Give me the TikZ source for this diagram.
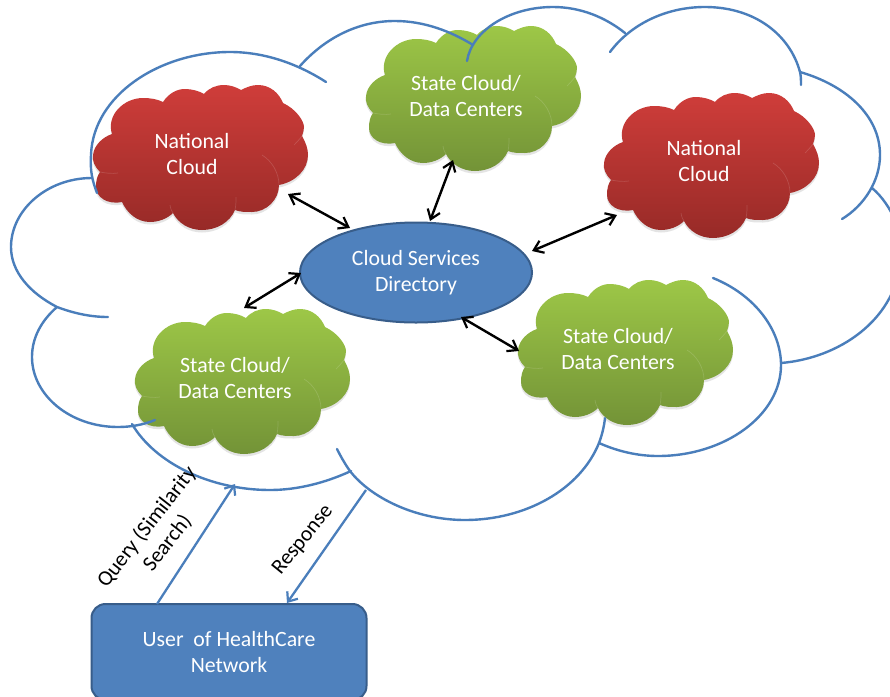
\documentclass[tikz,border=0pt]{standalone}
\usepackage{fontspec}
\setmainfont{Carlito}
\usetikzlibrary{shapes.geometric,arrows.meta}
\definecolor{lineblue}{HTML}{4A7EBB}
\definecolor{fillblue}{HTML}{4F81BD}
\definecolor{edgeblue}{HTML}{385D8A}
\definecolor{redtop}{HTML}{CF3D3A}
\definecolor{redbot}{HTML}{972A27}
\definecolor{greentop}{HTML}{9DC747}
\definecolor{greenbot}{HTML}{739337}
\tikzset{
  bigcloud/.style={draw=lineblue,line width=2.4pt,line cap=round},
  cloudtext/.style={text=white,align=center,font=\fontsize{21.8}{26}\selectfont,inner sep=0pt},
  linktwo/.style={black,line width=2.4pt,{Straight Barb[length=9pt,width=13pt,line width=2.2pt]}-{Straight Barb[length=9pt,width=13pt,line width=2.2pt]}},
  linkone/.style={lineblue,line width=2.3pt,-{Straight Barb[length=8pt,width=13pt,line width=2.2pt]}},
  hint/.style={white,opacity=.14,line width=.7pt},
  rotlabel/.style={text=black,align=center,font=\fontsize{21.5}{26}\selectfont,inner sep=0pt}
}
\def\cloudoutline{
  (20,49) .. controls (14,30) and (32,13) .. (51,13) .. controls (58,13) and (65,14) .. (71,17)
  .. controls (77,8) and (85,4) .. (93,4) .. controls (100,4) and (107,6) .. (112,9)
  .. controls (117,3) and (124,0) .. (132,0) .. controls (138,0) and (144,2) .. (149,5)
  .. controls (155,2) and (160,0) .. (166,0) .. controls (178,0) and (187,8) .. (191,18)
  .. controls (204,24) and (212,36) .. (212,42) .. controls (212,45) and (211,48) .. (210,51)
  .. controls (214,58) and (216,64) .. (216,70) .. controls (216,85) and (203,97) .. (187,100)
  .. controls (187,115) and (174,127) .. (160,127) .. controls (153,127) and (148,127) .. (143,125)
  .. controls (138,137) and (125,145) .. (110,145) .. controls (97,145) and (86,138) .. (81,128)
  .. controls (75,134) and (66,137) .. (58,137) .. controls (45,137) and (35,128) .. (30,117)
  .. controls (15,120) and (4,112) .. (4,102) .. controls (4,96) and (5,91) .. (8,87)
  .. controls (3,82) and (0,76) .. (1,70) .. controls (2,60) and (11,52) .. (20,49)
  -- cycle
}
\newcommand{\smallcloud}[4]{%
  \begin{scope}[shift={(#1,#2)}]
    \fill[black!30,opacity=.35] [shift={(0,2.5)}] \cloudoutline;
    \shade[top color=#3,bottom color=#4] \cloudoutline;
    \draw[hint] (170,70) .. controls (180,76) and (187,88) .. (187,100);
    \draw[hint] (8,87) .. controls (13,88) and (20,89) .. (26,88);
    \draw[hint] (81,128) .. controls (79,125) and (78,122) .. (78,120);
    \draw[hint] (143,125) .. controls (144,120) and (144,116) .. (144,112);
    \draw[hint] (210,51) .. controls (207,55) and (204,58) .. (202,60);
  \end{scope}}
\begin{document}
\begin{tikzpicture}[x=1pt,y=-1pt]
\useasboundingbox (0,0) rectangle (890,696);
\clip (0,0) rectangle (890,696);
\fill[white] (0,0) rectangle (890,696);

\smallcloud{92}{85}{redtop}{redbot}
\smallcloud{603}{93}{redtop}{redbot}
\smallcloud{365}{26}{greentop}{greenbot}
\smallcloud{134}{309}{greentop}{greenbot}
\smallcloud{517}{280}{greentop}{greenbot}

% large outer cloud
\draw[bigcloud] (97,193) .. controls (92,180) and (90,170) .. (91,155) .. controls (93,95) and (160,52) .. (230,52) .. controls (265,52) and (298,64) .. (326,82);
\draw[bigcloud] (300,66) .. controls (325,38) and (358,21) .. (395,21) .. controls (425,21) and (452,32) .. (473,45);
\draw[bigcloud] (467,61) .. controls (472,30) and (510,7) .. (553,7) .. controls (580,7) and (605,17) .. (625,33);
\draw[bigcloud] (610,52) .. controls (630,25) and (665,7) .. (705,7) .. controls (755,7) and (790,35) .. (800,72) .. controls (801,76) and (801,81) .. (801,85);
\draw[bigcloud] (800,72) .. controls (845,85) and (880,115) .. (880,155) .. controls (880,180) and (865,205) .. (842,219);
\draw[bigcloud] (872,188) .. controls (892,205) and (905,235) .. (900,265) .. controls (893,320) and (840,358) .. (781,363);
\draw[bigcloud] (713,278) .. controls (755,295) and (781,330) .. (781,365) .. controls (781,415) and (725,456) .. (658,456) .. controls (637,456) and (617,451) .. (599,443);
\draw[bigcloud] (605,418) .. controls (604,427) and (602,435) .. (599,443) .. controls (580,490) and (525,520) .. (465,520) .. controls (415,520) and (370,497) .. (350,471) .. controls (345,464) and (341,457) .. (337,449);
\draw[bigcloud] (351,471) .. controls (325,483) and (297,490) .. (270,490) .. controls (210,490) and (155,463) .. (132,424);
\draw[bigcloud] (155,420) .. controls (143,425) and (130,427) .. (118,427) .. controls (70,427) and (32,395) .. (32,357) .. controls (32,338) and (41,321) .. (57,307);
\draw[bigcloud] (108,317) .. controls (90,317) and (73,313) .. (57,307) .. controls (30,293) and (11,272) .. (11,247) .. controls (11,210) and (47,178) .. (92,178);

% nodes
\node[ellipse,draw=edgeblue,line width=2pt,fill=fillblue,minimum width=232pt,minimum height=100pt,inner sep=0pt] (dir) at (416,272.5) {};
\node[cloudtext] (dirtext) at (416,272.5) {Cloud Services\\Directory};
\node[draw=edgeblue,line width=2pt,fill=fillblue,rounded corners=14pt,minimum width=275pt,minimum height=96pt,inner sep=0pt] (user) at (229,652) {};
\node[cloudtext] (usertext) at (229,651.5) {User \ of HealthCare\\Network};
\node[cloudtext] (natA) at (192,154) {National\\Cloud};
\node[cloudtext] (natB) at (704,161) {National\\Cloud};
\node[cloudtext] (stA) at (466,96) {State Cloud/\\Data Centers};
\node[cloudtext] (stB) at (235,378) {State Cloud/\\Data Centers};
\node[cloudtext] (stC) at (618,349) {State Cloud/\\Data Centers};

% connector ends
\coordinate (natAend) at (288,194);
\coordinate (stAend) at (453,160);
\coordinate (natBend) at (617,215);
\coordinate (stBend) at (244,308);
\coordinate (stCend) at (519,351);
\coordinate (dirA) at (350,228);
\coordinate (dirB) at (430,221);
\coordinate (dirC) at (532,251);
\coordinate (dirD) at (301,273);
\coordinate (dirE) at (461,317);
\coordinate (qs) at (157,604);
\coordinate (qe) at (235,484);
\coordinate (rs) at (366,490);
\coordinate (re) at (287,603);

\draw[linktwo] (natAend) -- (dirA);
\draw[linktwo] (stAend) -- (dirB);
\draw[linktwo] (natBend) -- (dirC);
\draw[linktwo] (stBend) -- (dirD);
\draw[linktwo] (stCend) -- (dirE);
\draw[linkone] (qs) -- (qe);
\draw[linkone] (rs) -- (re);

\node[rotlabel,rotate=52] (qlabel) at (157,535) {Query (Similarity\\Search)};
\node[rotlabel,rotate=51] (rlabel) at (303,540) {Response};
\end{tikzpicture}
\end{document}
